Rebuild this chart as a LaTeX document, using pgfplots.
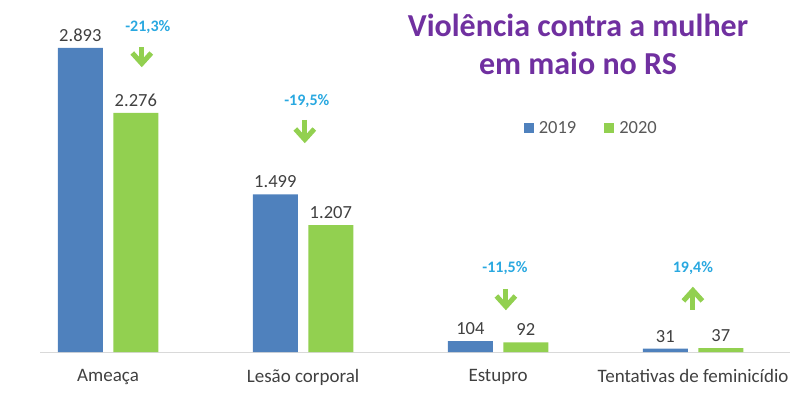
\documentclass[border=0pt]{standalone}
\usepackage{pgfplots}
\pgfplotsset{compat=1.18}
\usepackage{fontspec}
\setmainfont{Carlito}
\definecolor{cblue}{RGB}{79,129,189}
\definecolor{cgreen}{RGB}{146,208,80}
\definecolor{ccyan}{RGB}{41,168,224}
\definecolor{cpurple}{RGB}{112,48,160}
\definecolor{ctext}{RGB}{64,64,64}
\newcommand\downarr[3]{%
  \draw[cgreen,line width=5pt] (axis cs:#1,#2) -- (axis cs:#1,#3);
  \draw[cgreen,line width=5pt,line join=miter] ([xshift=-9.5pt,yshift=10.5pt]axis cs:#1,#3) -- (axis cs:#1,#3) -- ([xshift=9.5pt,yshift=10.5pt]axis cs:#1,#3);}
\newcommand\uparr[3]{%
  \draw[cgreen,line width=5pt] (axis cs:#1,#2) -- (axis cs:#1,#3);
  \draw[cgreen,line width=5pt,line join=miter] ([xshift=-9.5pt,yshift=-10.5pt]axis cs:#1,#3) -- (axis cs:#1,#3) -- ([xshift=9.5pt,yshift=-10.5pt]axis cs:#1,#3);}
\begin{document}
\begin{tikzpicture}
\path[use as bounding box] (0,0) rectangle (800pt,392pt);
\begin{axis}[
  at={(40pt,40pt)}, anchor=south west,
  scale only axis, width=750pt, height=315.3pt,
  xmin=-0.349, xmax=3.497, ymin=0, ymax=3000,
  ybar=10.5pt, bar width=45pt,
  axis y line=none, axis x line*=bottom,
  x axis line style={-,draw=black!15,line width=0.8pt},
  xtick={0,1,2,3},
  xticklabels={Ameaça,Lesão corporal,Estupro,Tentativas de feminicídio},
  xtick style={draw=none},
  xticklabel style={font=\fontsize{19}{21}\selectfont,text=ctext,yshift=-10pt},
  /pgf/number format/fixed,
  /pgf/number format/precision=0,
  /pgf/number format/1000 sep={.},
  /pgf/number format/assume math mode=true,
  nodes near coords,
  nodes near coords style={font=\fontsize{18.5}{20}\selectfont,text=ctext,yshift=3pt},
  clip=false,
  legend style={at={(0.735,0.710)},anchor=center,draw=none,fill=none,
    font=\fontsize{18.5}{20}\selectfont,text=black!65,
    /tikz/every even column/.append style={column sep=26pt}},
  legend columns=2,
  legend image code/.code={\fill[#1,draw=none] (0pt,-5pt) rectangle (10pt,5pt);\path (13pt,0pt);},
]
\addplot[fill=cblue,draw=none] coordinates {(0,2893) (1,1499) (2,104) (3,31)};
\addplot[fill=cgreen,draw=none] coordinates {(0,2276) (1,1207) (2,92) (3,37)};
\legend{2019,2020}
\node[font=\bfseries\fontsize{16}{18}\selectfont,text=ccyan] at (axis cs:0.204,3093) {-21,3\%};
\node[font=\bfseries\fontsize{16}{18}\selectfont,text=ccyan] at (axis cs:1.019,2389) {-19,5\%};
\node[font=\bfseries\fontsize{16}{18}\selectfont,text=ccyan] at (axis cs:2.035,799) {-11,5\%};
\node[font=\bfseries\fontsize{16}{18}\selectfont,text=ccyan] at (axis cs:2.999,799) {19,4\%};
\downarr{0.173}{2902}{2745}
\downarr{1.009}{2208}{2022}
\downarr{2.040}{600}{433}
\uparr{2.999}{400}{586}
\end{axis}
\node[font=\bfseries\fontsize{32}{38}\selectfont,text=cpurple,align=center] at (578pt,348pt) {Violência contra a mulher\\em maio no RS};
\end{tikzpicture}
\end{document}
